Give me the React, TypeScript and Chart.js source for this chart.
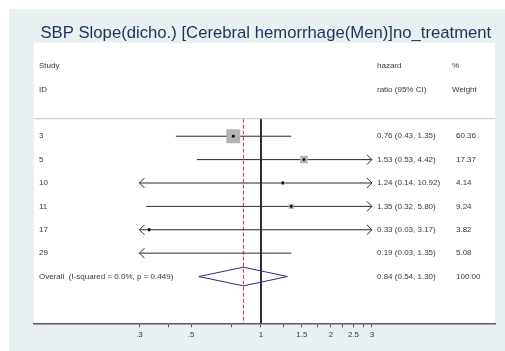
import React, { useEffect, useRef } from 'react';
import { Chart, registerables } from 'chart.js';

Chart.register(...registerables);

// ---------- data ----------
const TITLE = 'SBP Slope(dicho.) [Cerebral hemorrhage(Men)]no_treatment';
const HEADER_STUDY = ['Study', 'ID'];
const HEADER_ESTIMATE = ['hazard', 'ratio (95% CI)'];
const HEADER_WEIGHT = ['%', 'Weight'];

const STUDIES = ['3', '5', '10', '11', '17', '29'];
const HR = [0.76, 1.53, 1.24, 1.35, 0.33, 0.19];
const CI_LOW = [0.43, 0.53, 0.14, 0.32, 0.03, 0.03];
const CI_HIGH = [1.35, 4.42, 10.92, 5.8, 3.17, 1.35];
const WEIGHTS = [60.36, 17.37, 4.14, 9.24, 3.82, 5.08];

const OVERALL_LABEL = 'Overall  (I-squared = 0.0%, p = 0.449)';
const OVERALL_HR = 0.84;
const OVERALL_LOW = 0.54;
const OVERALL_HIGH = 1.3;
const OVERALL_WEIGHT = 100.0;

const MAJOR_TICKS = [0.3, 0.5, 1, 1.5, 2, 2.5, 3];
const MAJOR_TICK_LABELS = ['.3', '.5', '1', '1.5', '2', '2.5', '3'];
const MINOR_TICKS = [0.4, 0.75, 1.25, 1.75, 2.25, 2.75];
const AXIS_MIN = 0.3;
const AXIS_MAX = 3;
const NULL_VALUE = 1;

// ---------- layout / style constants ----------
const X_MIN = 0.1055;
const X_MAX = 10.17;
const ROW_MAX = 12;
const FIRST_STUDY_ROW = 4;
const OVERALL_ROW = FIRST_STUDY_ROW + STUDIES.length;
const SEP_ROW = 3.25;
const DIAMOND_HALF = 0.4;
const MAX_MARKER_R = 9.9;
const FONT = '8px "Liberation Sans", Arial, sans-serif';
const TEXT_COLOR = '#383838';
const LINE_COLOR = '#2a2a2a';
const OUTER_BG = '#E8F0F2';

const fmt = (v: number) => v.toFixed(2);
const rowOf = (i: number) => FIRST_STUDY_ROW + i;
const inRange = (v: number) => v >= AXIS_MIN && v <= AXIS_MAX;

const pointIdx = HR.map((_, i) => i).filter((i) => inRange(HR[i]));
const maxW = Math.max(...WEIGHTS);

const forestPlugin = {
  id: 'forest',
  beforeDraw(chart: any) {
    const { ctx, chartArea, width, height } = chart;
    ctx.save();
    ctx.fillStyle = '#ffffff';
    ctx.fillRect(0, 0, width, height);
    ctx.fillStyle = OUTER_BG;
    ctx.fillRect(9, 9, width - 9, height - 9);
    ctx.fillStyle = '#ffffff';
    ctx.fillRect(chartArea.left, chartArea.top, chartArea.right - chartArea.left, chartArea.bottom - chartArea.top);
    ctx.restore();
  },
  afterDatasetsDraw(chart: any) {
    const { ctx, chartArea } = chart;
    const xs = chart.scales.x;
    const ys = chart.scales.y;
    ctx.save();
    // separator
    const sy = ys.getPixelForValue(SEP_ROW);
    ctx.strokeStyle = '#c8c8c8';
    ctx.lineWidth = 1;
    ctx.beginPath();
    ctx.moveTo(chartArea.left, sy);
    ctx.lineTo(chartArea.right, sy);
    ctx.stroke();

    // arrows
    ctx.strokeStyle = LINE_COLOR;
    ctx.lineWidth = 1;
    STUDIES.forEach((_, i) => {
      const y = ys.getPixelForValue(rowOf(i));
      if (CI_LOW[i] < AXIS_MIN) {
        const x = xs.getPixelForValue(AXIS_MIN);
        ctx.beginPath();
        ctx.moveTo(x + 5, y - 5);
        ctx.lineTo(x, y);
        ctx.lineTo(x + 5, y + 5);
        ctx.stroke();
      }
      if (CI_HIGH[i] > AXIS_MAX) {
        const x = xs.getPixelForValue(AXIS_MAX);
        ctx.beginPath();
        ctx.moveTo(x - 5, y - 5);
        ctx.lineTo(x, y);
        ctx.lineTo(x - 5, y + 5);
        ctx.stroke();
      }
    });

    // text
    ctx.font = FONT;
    ctx.fillStyle = TEXT_COLOR;
    ctx.textBaseline = 'middle';
    ctx.textAlign = 'left';
    const xStudy = chartArea.left + 5;
    const xEst = 377;
    const xWHead = 452;
    const xW = 456;
    HEADER_STUDY.forEach((t, i) => ctx.fillText(t, xStudy, ys.getPixelForValue(i + 1)));
    HEADER_ESTIMATE.forEach((t, i) => ctx.fillText(t, xEst, ys.getPixelForValue(i + 1)));
    HEADER_WEIGHT.forEach((t, i) => ctx.fillText(t, xWHead, ys.getPixelForValue(i + 1)));
    STUDIES.forEach((s, i) => {
      const y = ys.getPixelForValue(rowOf(i));
      ctx.fillText(s, xStudy, y);
      ctx.fillText(`${fmt(HR[i])} (${fmt(CI_LOW[i])}, ${fmt(CI_HIGH[i])})`, xEst, y);
      ctx.fillText(fmt(WEIGHTS[i]), xW, y);
    });
    const oy = ys.getPixelForValue(OVERALL_ROW);
    ctx.fillText(OVERALL_LABEL, xStudy, oy);
    ctx.fillText(`${fmt(OVERALL_HR)} (${fmt(OVERALL_LOW)}, ${fmt(OVERALL_HIGH)})`, xEst, oy);
    ctx.fillText(fmt(OVERALL_WEIGHT), xW, oy);
    ctx.restore();
  },
};

export default function App() {
  const ref = useRef<HTMLCanvasElement>(null);
  useEffect(() => {
    const datasets: any[] = [];
    // dots (on top)
    datasets.push({
      data: pointIdx.map((i) => ({ x: HR[i], y: rowOf(i) })),
      pointStyle: 'circle',
      pointRadius: 1.4,
      pointBackgroundColor: '#000000',
      pointBorderWidth: 0,
      showLine: false,
    });
    // weighted squares
    datasets.push({
      data: pointIdx.map((i) => ({ x: HR[i], y: rowOf(i) })),
      pointStyle: 'rect',
      pointRadius: pointIdx.map((i) => MAX_MARKER_R * Math.sqrt(WEIGHTS[i] / maxW)),
      pointBackgroundColor: '#b4b4b4',
      pointBorderWidth: 0,
      showLine: false,
    });
    // diamond
    datasets.push({
      data: [
        { x: OVERALL_LOW, y: OVERALL_ROW },
        { x: OVERALL_HR, y: OVERALL_ROW - DIAMOND_HALF },
        { x: OVERALL_HIGH, y: OVERALL_ROW },
        { x: OVERALL_HR, y: OVERALL_ROW + DIAMOND_HALF },
        { x: OVERALL_LOW, y: OVERALL_ROW },
      ],
      showLine: true,
      pointRadius: 0,
      borderColor: '#2a2a8c',
      borderWidth: 1,
      tension: 0,
    });
    // CI lines
    STUDIES.forEach((_, i) => {
      datasets.push({
        data: [
          { x: Math.max(CI_LOW[i], AXIS_MIN), y: rowOf(i) },
          { x: Math.min(CI_HIGH[i], AXIS_MAX), y: rowOf(i) },
        ],
        showLine: true,
        pointRadius: 0,
        borderColor: LINE_COLOR,
        borderWidth: 1,
      });
    });
    // null line
    datasets.push({
      data: [
        { x: NULL_VALUE, y: SEP_ROW },
        { x: NULL_VALUE, y: ROW_MAX },
      ],
      showLine: true,
      pointRadius: 0,
      borderColor: '#111111',
      borderWidth: 1,
    });
    // overall dashed line
    datasets.push({
      data: [
        { x: OVERALL_HR, y: SEP_ROW },
        { x: OVERALL_HR, y: ROW_MAX },
      ],
      showLine: true,
      pointRadius: 0,
      borderColor: '#c23a3a',
      borderWidth: 1,
      borderDash: [4, 2],
    });

    const allTicks = [...MAJOR_TICKS, ...MINOR_TICKS].sort((a, b) => a - b);

    const chart = new Chart(ref.current!, {
      type: 'scatter',
      data: { datasets },
      plugins: [forestPlugin],
      options: {
        animation: false,
        responsive: false,
        maintainAspectRatio: false,
        devicePixelRatio: 1,
        events: [],
        layout: { padding: { left: 34, right: 7.3, top: 9, bottom: 8.1 } },
        plugins: {
          legend: { display: false },
          tooltip: { enabled: false },
          title: {
            display: true,
            text: TITLE,
            color: '#1c3358',
            font: { family: '"Liberation Sans", Arial, sans-serif', size: 16.7, weight: 'normal', lineHeight: 1 },
            padding: { top: 15.6, bottom: 1.4 },
          },
        },
        scales: {
          x: {
            type: 'logarithmic',
            min: X_MIN,
            max: X_MAX,
            afterBuildTicks: (scale: any) => {
              scale.ticks = allTicks.map((v) => ({ value: v }));
            },
            grid: { display: true, drawOnChartArea: false, drawTicks: true, tickLength: 4, color: '#555555' },
            border: { display: true, color: '#5a5a5a', width: 1.5 },
            ticks: {
              autoSkip: false,
              maxRotation: 0,
              padding: 3,
              color: TEXT_COLOR,
              font: { family: '"Liberation Sans", Arial, sans-serif', size: 8 },
              callback: (v: any) => {
                const k = MAJOR_TICKS.indexOf(Number(v));
                return k >= 0 ? MAJOR_TICK_LABELS[k] : '';
              },
            },
          },
          y: {
            type: 'linear',
            display: false,
            reverse: true,
            min: 0,
            max: ROW_MAX,
          },
        },
      } as any,
    });
    return () => chart.destroy();
  }, []);
  return (
    <div style={{ position: 'absolute', left: 0, top: 0, width: 505, height: 351 }}>
      <canvas ref={ref} width={505} height={351} style={{ display: 'block' }} />
    </div>
  );
}
